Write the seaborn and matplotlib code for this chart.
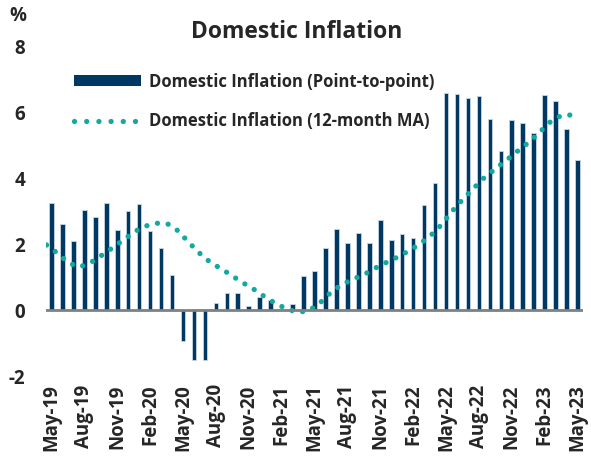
import pandas as pd
import matplotlib.pyplot as plt
import seaborn as sns
from matplotlib.patches import Patch
from matplotlib.lines import Line2D

# monthly data, May-19 .. May-23
months = pd.date_range("2019-05-01", periods=49, freq="MS").strftime("%b-%y").tolist()

point_to_point = [3.23, 2.60, 2.09, 3.02, 2.83, 3.23, 2.41, 3.01, 3.21, 2.39, 1.89, 1.06,
                  -0.94, -1.52, -1.52, 0.21, 0.51, 0.51, 0.12, 0.40, 0.30, 0.03, 0.18, 1.03,
                  1.18, 1.87, 2.45, 2.04, 2.33, 2.04, 2.73, 2.12, 2.31, 2.17, 3.18, 3.85,
                  6.59, 6.56, 6.42, 6.47, 5.79, 4.83, 5.76, 5.67, 5.37, 6.51, 6.34, 5.47, 4.54]

ma_12m = [1.97, 1.72, 1.43, 1.30, 1.43, 1.65, 1.88, 2.12, 2.37, 2.54, 2.63, 2.62,
          2.40, 2.04, 1.71, 1.43, 1.24, 1.02, 0.81, 0.61, 0.38, 0.18, 0.02, -0.07,
          -0.01, 0.23, 0.55, 0.78, 0.94, 1.08, 1.27, 1.44, 1.60, 1.78, 1.99, 2.24,
          2.57, 2.99, 3.36, 3.70, 4.03, 4.29, 4.55, 4.82, 5.08, 5.39, 5.71, 5.90, 5.91]

yticks = [-2, 0, 2, 4, 6, 8]

bar_color = "#003864"
dot_color = "#12AA9E"

df = pd.DataFrame({"pos": range(len(months)), "p2p": point_to_point, "ma": ma_12m})
df["ma_pos"] = df["pos"] - 0.45

sns.set_style("white")
plt.rcParams["font.family"] = ["Open Sans", "DejaVu Sans"]

fig = plt.figure(figsize=(5.91, 4.57), dpi=100)
ax = fig.add_axes([46 / 591, 1 - 376 / 457, (583 - 46) / 591, (376 - 46) / 457])

sns.barplot(data=df, x="pos", y="p2p", native_scale=True, width=0.42,
            color=bar_color, edgecolor="#c9d5e2", linewidth=0.6, saturation=1, ax=ax)
sns.lineplot(data=df, x="ma_pos", y="ma", color=dot_color, linewidth=3.8,
             linestyle=(0, (0.01, 2.05)), dash_capstyle="round", ax=ax)
ax.axhline(0, color="#808080", linewidth=2, zorder=3)

ax.set_xlim(-0.5, len(months) - 0.5)
ax.set_ylim(-2, 8)
ax.set_yticks(yticks)
ax.set_yticklabels([str(v) for v in yticks], fontsize=13.5, fontweight="bold")
ax.set_xticks(range(0, len(months), 3))
ax.set_xticklabels(months[::3], rotation=90, fontsize=13.5, fontweight="bold")
ax.tick_params(axis="y", length=0, pad=15)
ax.tick_params(axis="x", length=0, pad=6)
ax.set_xlabel("")
ax.set_ylabel("")
for s in ax.spines.values():
    s.set_visible(False)

fig.text(18 / 591, 1 - 16 / 457, "%", fontsize=13.5, fontweight="bold", ha="center", va="center")
fig.text(297 / 591, 1 - 32 / 457, "Domestic Inflation", fontsize=16.5, fontweight="bold",
         ha="center", va="center")

handles = [Patch(facecolor=bar_color, edgecolor="none"),
           Line2D([0], [0], color=dot_color, linewidth=3.8, linestyle=(0, (0.01, 2.3)),
                  dash_capstyle="round")]
labels = ["Domestic Inflation (Point-to-point)", "Domestic Inflation (12-month MA)"]
leg = ax.legend(handles, labels, loc="upper left", bbox_to_anchor=(0.025, 0.965),
                frameon=False, handlelength=4.0, handleheight=0.6, handletextpad=0.45,
                labelspacing=1.3, prop={"weight": "bold", "size": 12})

plt.savefig("out.png", dpi=100)
